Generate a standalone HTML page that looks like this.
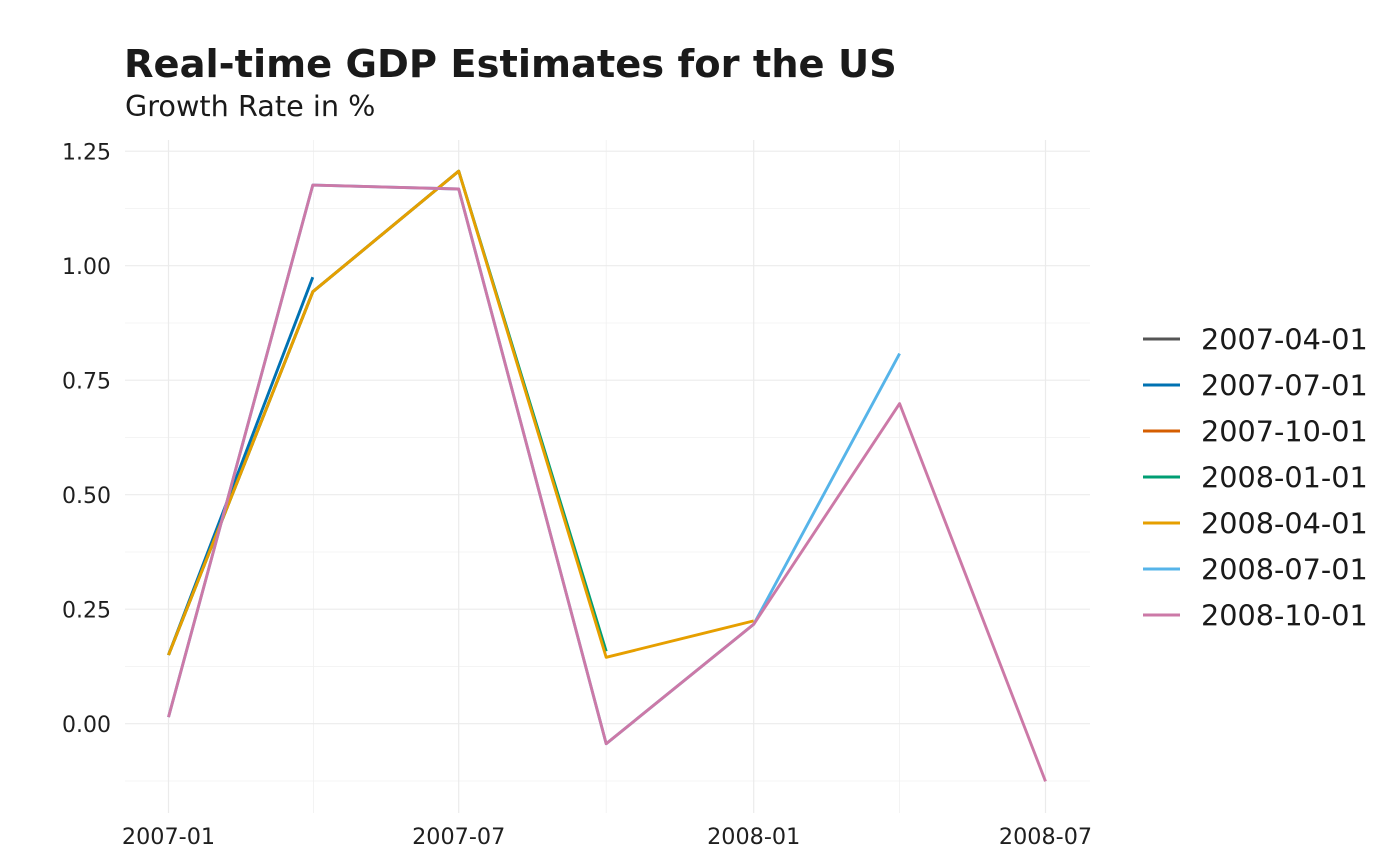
<!DOCTYPE html>
<html>
<head>
<meta charset="utf-8">
<style>
  html, body { margin: 0; padding: 0; background: #ffffff; }
  svg { display: block; }
  text { font-family: "DejaVu Sans", "Liberation Sans", sans-serif; }
</style>
</head>
<body>
<svg width="1400" height="865" viewBox="0 0 1400 865" xmlns="http://www.w3.org/2000/svg">
  <rect x="0" y="0" width="1400" height="865" fill="#ffffff"/>

  <!-- minor horizontal gridlines -->
  <g stroke="#f0f0f0" stroke-width="0.8">
    <line x1="125" x2="1090" y1="781" y2="781"/>
    <line x1="125" x2="1090" y1="666.5" y2="666.5"/>
    <line x1="125" x2="1090" y1="552" y2="552"/>
    <line x1="125" x2="1090" y1="437.5" y2="437.5"/>
    <line x1="125" x2="1090" y1="323" y2="323"/>
    <line x1="125" x2="1090" y1="208.5" y2="208.5"/>
  </g>
  <!-- minor vertical gridlines -->
  <g stroke="#f0f0f0" stroke-width="0.8">
    <line x1="313.5" x2="313.5" y1="140" y2="813"/>
    <line x1="606.2" x2="606.2" y1="140" y2="813"/>
    <line x1="899.6" x2="899.6" y1="140" y2="813"/>
  </g>
  <!-- major horizontal gridlines -->
  <g stroke="#ebebeb" stroke-width="1.2">
    <line x1="125" x2="1090" y1="723.7" y2="723.7"/>
    <line x1="125" x2="1090" y1="609.2" y2="609.2"/>
    <line x1="125" x2="1090" y1="494.7" y2="494.7"/>
    <line x1="125" x2="1090" y1="380.2" y2="380.2"/>
    <line x1="125" x2="1090" y1="265.7" y2="265.7"/>
    <line x1="125" x2="1090" y1="151.2" y2="151.2"/>
  </g>
  <!-- major vertical gridlines -->
  <g stroke="#ebebeb" stroke-width="1.2">
    <line x1="168.5" x2="168.5" y1="140" y2="813"/>
    <line x1="458.7" x2="458.7" y1="140" y2="813"/>
    <line x1="753.7" x2="753.7" y1="140" y2="813"/>
    <line x1="1045.5" x2="1045.5" y1="140" y2="813"/>
  </g>

  <!-- series -->
  <g fill="none" stroke-width="2.9" stroke-linejoin="round" stroke-linecap="butt">
    <!-- 2007-07-01 -->
    <polyline stroke="#0072B2" points="168.5,655.0 312.8,277.2"/>
    <!-- 2007-10-01 -->
    <polyline stroke="#D55E00" points="168.5,655.0 312.8,291.8 458.7,171.1"/>
    <!-- 2008-01-01 -->
    <polyline stroke="#009E73" points="168.5,655.0 312.8,291.8 458.7,171.1 606.2,651.3"/>
    <!-- 2008-04-01 -->
    <polyline stroke="#E69F00" points="168.5,655.0 312.8,291.8 458.7,171.1 606.2,657.3 753.7,620.9"/>
    <!-- 2008-07-01 -->
    <polyline stroke="#56B4E9" points="168.5,717.1 312.8,185.1 458.7,189.0 606.2,743.7 753.7,624.3 899.6,353.6"/>
    <!-- 2008-10-01 -->
    <polyline stroke="#CC79A7" points="168.5,717.1 312.8,185.1 458.7,189.0 606.2,743.7 753.7,624.3 899.6,403.6 1045.5,781.4"/>
  </g>

  <!-- y axis labels -->
  <g font-size="22" fill="#1f1f1f" text-anchor="end">
    <text x="111" y="159.5">1.25</text>
    <text x="111" y="274">1.00</text>
    <text x="111" y="388.5">0.75</text>
    <text x="111" y="503">0.50</text>
    <text x="111" y="617.5">0.25</text>
    <text x="111" y="732">0.00</text>
  </g>
  <!-- x axis labels -->
  <g font-size="22.3" fill="#1f1f1f" text-anchor="middle">
    <text x="168.5" y="844">2007-01</text>
    <text x="458.7" y="844">2007-07</text>
    <text x="753.7" y="844">2008-01</text>
    <text x="1045.5" y="844">2008-07</text>
  </g>

  <!-- title / subtitle -->
  <text x="124" y="77" font-size="38.4" font-weight="bold" fill="#1a1a1a">Real-time GDP Estimates for the US</text>
  <text x="125" y="116" font-size="28.7" fill="#1a1a1a">Growth Rate in %</text>

  <!-- legend -->
  <g stroke-width="3" fill="none">
    <line x1="1143" x2="1180" y1="339" y2="339" stroke="#555555"/>
    <line x1="1143" x2="1180" y1="385" y2="385" stroke="#0072B2"/>
    <line x1="1143" x2="1180" y1="431" y2="431" stroke="#D55E00"/>
    <line x1="1143" x2="1180" y1="477" y2="477" stroke="#009E73"/>
    <line x1="1143" x2="1180" y1="523" y2="523" stroke="#E69F00"/>
    <line x1="1143" x2="1180" y1="569" y2="569" stroke="#56B4E9"/>
    <line x1="1143" x2="1180" y1="615" y2="615" stroke="#CC79A7"/>
  </g>
  <g font-size="28.7" fill="#1a1a1a">
    <text x="1201" y="349.5">2007-04-01</text>
    <text x="1201" y="395.5">2007-07-01</text>
    <text x="1201" y="441.5">2007-10-01</text>
    <text x="1201" y="487.5">2008-01-01</text>
    <text x="1201" y="533.5">2008-04-01</text>
    <text x="1201" y="579.5">2008-07-01</text>
    <text x="1201" y="625.5">2008-10-01</text>
  </g>
</svg>
</body>
</html>
